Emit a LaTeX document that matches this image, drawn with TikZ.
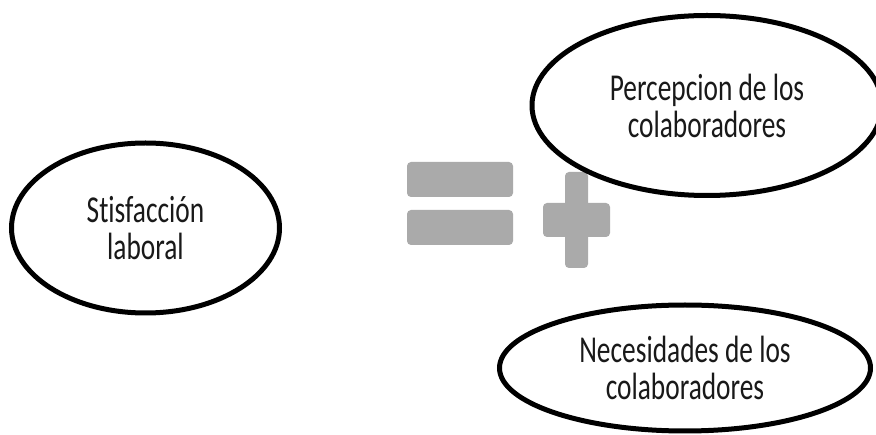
\documentclass[tikz,border=0pt]{standalone}
\usepackage{fontspec}
\usetikzlibrary{shapes.geometric}
\newfontfamily\ovalfont[FakeStretch=0.72,Ligatures=NoCommon]{Carlito}
\definecolor{symgray}{HTML}{AAAAAA}
\begin{document}
\begin{tikzpicture}[x=1pt,y=-1pt,
  oval/.style={ellipse,draw=black,line width=5pt,fill=white,inner sep=0pt,
    align=center,text=black!90,font={\ovalfont\fontsize{38}{37}\selectfont}},
  symbar/.style={fill=symgray,draw=none,rounded corners=4pt}]
  \useasboundingbox (0,0) rectangle (876,435);
  \fill[white] (0,0) rectangle (876,435);

  % equals sign
  \path[symbar] (407,162) rectangle (513,197);
  \path[symbar] (407,210) rectangle (513,245);
  % plus sign
  \path[symbar] (565,172) rectangle (588,268);
  \path[symbar] (543,203) rectangle (610,237);

  % ovals
  \node[oval,minimum width=268pt,minimum height=170pt] (sat) at (145.5,228)
    {Stisfacción\\laboral};
  \node[oval,minimum width=350pt,minimum height=180pt] (perc) at (707,105.5)
    {Percepcion de los\\colaboradores};
  \node[oval,minimum width=371pt,minimum height=126pt] (nec) at (685,368)
    {Necesidades de los\\colaboradores};
\end{tikzpicture}
\end{document}
